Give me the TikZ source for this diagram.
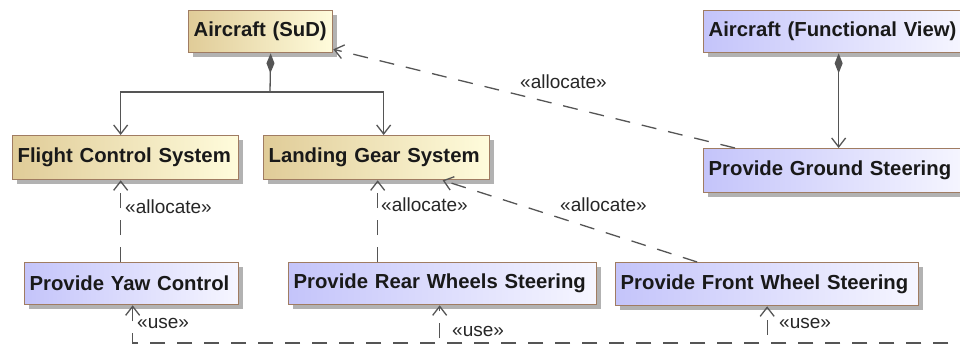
\documentclass[tikz,border=0pt]{standalone}
\usepackage{fontspec}
\setmainfont{Liberation Sans}
\usetikzlibrary{arrows.meta,shadows}
\definecolor{clsL}{HTML}{E0CC98}
\definecolor{clsR}{HTML}{FFFCDC}
\definecolor{fnL}{HTML}{C4C4FA}
\definecolor{fnR}{HTML}{F6F6FF}
\definecolor{bord}{HTML}{A07C62}
\definecolor{lin}{HTML}{555555}
\tikzset{
  box/.style={draw=bord, line width=1.3pt, anchor=north west, inner xsep=5pt, inner ysep=0pt,
    align=left, font=\fontsize{20.3}{22}\selectfont\bfseries, text=black!90,
    drop shadow={shadow xshift=4pt, shadow yshift=-4pt, fill=black, opacity=0.3}},
  cls/.style={box, left color=clsL, right color=clsR},
  fn/.style={box, left color=fnL, right color=fnR},
  conn/.style={draw=lin, line width=1.3pt},
  opentip/.style={-{Straight Barb[length=9pt,width=14pt,line width=1.3pt]}},
  comp/.style={conn, {Diamond[length=20pt,width=8pt,fill=lin]}-},
  compto/.style={conn, {Diamond[length=20pt,width=8pt,fill=lin]}-{Straight Barb[length=9pt,width=14pt,line width=1.3pt]}},
  dep/.style={conn, dash pattern=on 15pt off 12pt, opentip},
  lbl/.style={font=\fontsize{19}{21}\selectfont, text=black!85, inner sep=0pt, anchor=west}
}
\begin{document}
\begin{tikzpicture}[x=1pt,y=-1pt]
\useasboundingbox (0,0) rectangle (960,345);
\clip (0,0) rectangle (960,345);
% class boxes
\node[cls, text width=134pt, minimum height=42pt] (sud) at (188,10) {Aircraft (SuD)};
\node[cls, text width=216pt, minimum height=44pt] (fcs) at (12,135) {Flight Control System};
\node[cls, text width=216pt, minimum height=44pt] (lgs) at (263,135) {Landing Gear System};
% functional boxes
\node[fn, text width=252pt, minimum height=42pt] (afv) at (703,10) {Aircraft (Functional View)};
\node[fn, text width=252pt, minimum height=44pt] (pgs) at (703,148) {Provide Ground Steering};
\node[fn, text width=204pt, minimum height=42pt] (pyc) at (24,262) {Provide Yaw Control};
\node[fn, text width=298pt, minimum height=42pt] (prws) at (288,262) {Provide Rear Wheels Steering};
\node[fn, text width=293pt, minimum height=43pt] (pfws) at (615,262) {Provide Front Wheel Steering};
% composition tree
\coordinate (j) at (270,92);
\draw[comp] ([xshift=10pt]sud.south) -- (j);
\draw[conn, opentip] (j) -| ([xshift=-5pt]fcs.north);
\draw[conn, opentip] (j) -| ([xshift=7pt]lgs.north);
\draw[compto] ([xshift=4pt]afv.south) -- ([xshift=4pt]pgs.north);
% allocations
\draw[dep] ([xshift=-11pt]pyc.north) -- ([xshift=-5pt]fcs.south);
\draw[dep] ([xshift=-65pt]prws.north) -- ([xshift=1pt]lgs.south);
\draw[dep] ([xshift=-70pt]pfws.north) -- ([xshift=66pt]lgs.south);
\draw[dep] ([xshift=32pt]pgs.north west) -- ([yshift=4pt]sud.south east);
\node[lbl] (l1) at (125,207) {«allocate»};
\node[lbl] (l2) at (381,205) {«allocate»};
\node[lbl] (l3) at (560,205) {«allocate»};
\node[lbl] (l4) at (520,82) {«allocate»};
% usages
\coordinate (src) at (975,343);
\draw[dep] (src) -| ([xshift=1pt]pyc.south);
\draw[dep] (src) -| ([xshift=-3pt]prws.south);
\draw[dep] (src) -| ([xshift=0pt]pfws.south);
\node[lbl] (u1) at (137,323) {«use»};
\node[lbl] (u2) at (452,331) {«use»};
\node[lbl] (u3) at (779,323) {«use»};
\end{tikzpicture}
\end{document}
